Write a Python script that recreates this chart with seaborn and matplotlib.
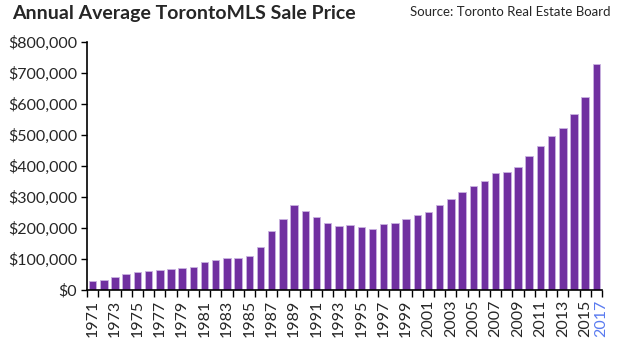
import matplotlib
matplotlib.use("Agg")
import matplotlib.pyplot as plt
import matplotlib.ticker as mticker
import seaborn as sns
import pandas as pd

# Annual average TorontoMLS sale price, 1971-2016
years = list(range(1971, 2017))
prices = [
    30426, 32513, 40605, 52806, 57581, 61389, 64559, 67333, 70830, 75694,
    90203, 95496, 101626, 102318, 109094, 138925, 189105, 229635, 273698, 255020,
    234313, 214971, 206490, 208921, 203028, 198150, 211307, 216815, 228372, 243255,
    251508, 275231, 293067, 315231, 335907, 352388, 377029, 379943, 395460, 432264,
    465014, 497130, 522951, 566726, 622116, 729922,
]
year_labels = [str(y) for y in years if y % 2 == 1]
extra_label = "2017"

df = pd.DataFrame({"year": [str(y) for y in years], "price": prices})

sns.set_style("white")
plt.rcParams["font.family"] = ["Lato", "DejaVu Sans"]

fig = plt.figure(figsize=(6.2, 3.43), dpi=100)
ax = fig.add_axes([0.1403, 0.1545, 0.971 - 0.1403, 0.8776 - 0.1545])

sns.barplot(data=df, x="year", y="price", color="#7030A0", saturation=1,
            width=0.67, edgecolor="#C9B3E0", linewidth=0.6, ax=ax)

ax.set_xlim(-0.5, len(years) - 0.5)
ax.set_ylim(0, 800000)
ax.set_xlabel("")
ax.set_ylabel("")

# y axis: dollar format
ax.yaxis.set_major_locator(mticker.MultipleLocator(100000))
ax.yaxis.set_major_formatter(mticker.FuncFormatter(lambda v, p: f"${v:,.0f}"))
ax.tick_params(axis="y", direction="out", length=4, width=1, color="black",
               labelsize=11.5, pad=3, left=True)

# x axis: tick marks between bars, labels on odd years
label_pos = [i for i, y in enumerate(years) if y % 2 == 1] + [len(years) - 0.55]
ax.set_xticks(label_pos)
ax.set_xticklabels(year_labels + [extra_label], rotation=90)
ax.set_xticks([i - 0.5 for i in range(len(years) + 1)], minor=True)
ax.tick_params(axis="x", which="major", length=0, labelsize=11.5, pad=7)
ax.tick_params(axis="x", which="minor", direction="out", length=5, width=1,
               color="black", bottom=True)
ax.get_xticklabels()[-1].set_color("#5A7BF0")

for side in ("top", "right"):
    ax.spines[side].set_visible(False)
for side in ("left", "bottom"):
    ax.spines[side].set_color("black")
    ax.spines[side].set_linewidth(1.2)

fig.text(12 / 620, 1 - 14 / 343, "Annual Average TorontoMLS Sale Price",
         fontsize=14, fontweight="bold", ha="left", va="center")
fig.text(610 / 620, 1 - 12 / 343, "Source: Toronto Real Estate Board",
         fontsize=9.5, ha="right", va="center")

fig.savefig("out.png", dpi=100)
